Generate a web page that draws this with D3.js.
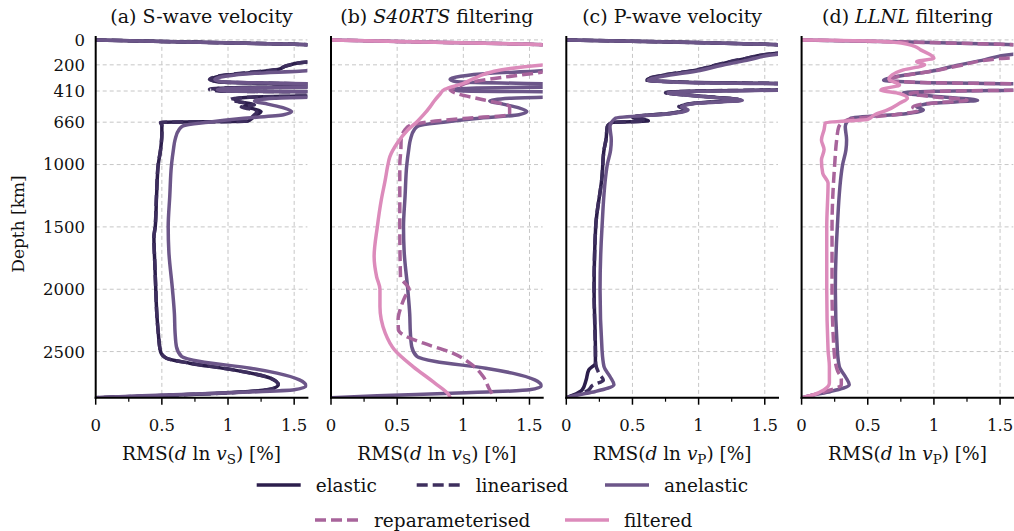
<!DOCTYPE html>
<html><head><meta charset="utf-8">
<script src="https://cdn.jsdelivr.net/npm/d3@7"></script>
<style>
body{margin:0;background:#fff}
svg{display:block}
text{font-family:"DejaVu Serif",serif;fill:#111}
</style>
</head><body>
<svg id="chart" width="1014" height="531"></svg>
<script>
// ---------------- data: [depth km, RMS %] ----------------
const depthTicks = [0, 200, 410, 660, 1000, 1500, 2000, 2500];
const xTicks = [0, 0.5, 1, 1.5];
const xMinorTicks = [0.25, 0.75, 1.25];
const xTickLabels = ["0", "0.5", "1", "1.5"];

const elasticS = [[0,0],[15,0.6],[35,1.5],[55,1.9],[160,1.9],[178,1.6],[205,1.45],[240,1.37],[265,1.15],[290,0.95],[315,0.87],[335,0.92],[348,1.3],[358,1.9],[372,1.9],[382,1.1],[395,0.9],[408,0.95],[418,1.9],[442,1.9],[458,1.2],[475,1.05],[495,1.08],[515,1.18],[535,1.12],[555,1.2],[575,1.25],[600,1.22],[630,1.18],[652,1.15],[662,0.5],[690,0.5],[750,0.5],[883,0.49],[1000,0.473],[1250,0.46],[1500,0.45],[1580,0.44],[1800,0.447],[2000,0.454],[2200,0.462],[2350,0.473],[2500,0.49],[2553,0.535],[2593,0.71],[2647,1.04],[2713,1.32],[2767,1.38],[2800,1.33],[2825,1.1],[2845,0.7],[2860,0.3],[2870,0]];
const linearisedS = [[0,0],[15,0.6],[35,1.5],[55,1.9],[160,1.9],[178,1.6],[205,1.45],[240,1.35],[265,1.12],[290,0.93],[318,0.86],[338,0.95],[350,1.4],[360,1.9],[374,1.9],[384,1.05],[396,0.86],[410,0.93],[420,1.9],[444,1.9],[460,1.15],[478,1.02],[500,1.1],[520,1.2],[538,1.1],[558,1.18],[578,1.22],[600,1.2],[630,1.17],[652,1.14],[662,0.49],[690,0.5],[750,0.5],[883,0.49],[1000,0.472],[1250,0.459],[1500,0.449],[1580,0.44],[1800,0.447],[2000,0.454],[2200,0.462],[2350,0.473],[2500,0.49],[2553,0.535],[2593,0.71],[2647,1.04],[2713,1.32],[2767,1.38],[2800,1.33],[2825,1.1],[2845,0.7],[2860,0.3],[2870,0]];
const anelasticS = [[0,0],[15,0.6],[35,1.5],[55,1.9],[190,1.9],[215,1.65],[245,1.6],[268,1.2],[292,0.98],[315,0.9],[335,0.95],[348,1.4],[358,1.9],[375,1.9],[385,1.1],[398,0.92],[410,1.0],[420,1.9],[450,1.9],[468,1.35],[490,1.2],[515,1.3],[545,1.42],[575,1.48],[600,1.42],[630,1.1],[660,0.85],[690,0.66],[720,0.63],[800,0.6],[883,0.587],[1000,0.573],[1250,0.56],[1500,0.548],[1700,0.553],[2000,0.58],[2200,0.595],[2350,0.6],[2460,0.61],[2540,0.65],[2580,0.79],[2633,1.17],[2673,1.37],[2727,1.54],[2775,1.59],[2807,1.5],[2833,0.96],[2855,0.35],[2870,0]];
const reparamS = [[0,0],[15,0.6],[35,1.5],[55,1.9],[200,1.9],[255,1.62],[300,1.3],[340,1.05],[380,0.95],[400,0.9],[430,0.95],[480,1.15],[535,1.35],[600,1.35],[630,1.0],[660,0.72],[685,0.6],[720,0.56],[802,0.53],[883,0.528],[1000,0.52],[1500,0.52],[1900,0.525],[2000,0.59],[2058,0.56],[2139,0.53],[2245,0.507],[2326,0.51],[2380,0.57],[2433,0.7],[2513,0.92],[2593,1.05],[2700,1.15],[2807,1.2],[2870,1.24]];
const filteredS = [[0,0],[15,0.6],[35,1.5],[55,1.9],[180,1.9],[201,1.6],[255,1.22],[300,1.1],[348,1.0],[396,0.86],[440,0.82],[490,0.78],[535,0.75],[600,0.7],[656,0.65],[722,0.58],[829,0.5],[936,0.445],[1003,0.43],[1123,0.41],[1284,0.38],[1500,0.35],[1738,0.326],[1900,0.345],[2000,0.37],[2139,0.37],[2352,0.41],[2486,0.48],[2620,0.62],[2753,0.785],[2847,0.89],[2870,0.9]];

const elasticP = [[0,0],[15,0.7],[35,1.5],[55,1.9],[95,1.9],[107,1.6],[150,1.35],[201,1.14],[241,0.99],[289,0.71],[321,0.61],[340,0.9],[355,1.9],[395,1.9],[410,1.0],[423,0.76],[450,1.0],[482,1.32],[505,1.0],[535,0.86],[560,0.91],[588,0.8],[620,0.5],[650,0.62],[662,0.35],[696,0.31],[800,0.3],[883,0.285],[1097,0.27],[1500,0.222],[2000,0.21],[2486,0.22],[2593,0.22],[2647,0.17],[2727,0.15],[2807,0.12],[2850,0.05],[2870,0]];
const linearisedP = [[0,0],[15,0.7],[35,1.5],[55,1.9],[95,1.9],[107,1.6],[150,1.35],[201,1.13],[241,0.98],[289,0.7],[321,0.6],[340,0.9],[355,1.9],[395,1.9],[410,1.0],[423,0.75],[450,1.0],[482,1.31],[505,1.0],[535,0.85],[560,0.9],[588,0.79],[620,0.5],[650,0.6],[662,0.35],[696,0.31],[800,0.3],[883,0.285],[1097,0.27],[1500,0.222],[2000,0.21],[2486,0.22],[2593,0.222],[2680,0.25],[2730,0.28],[2770,0.2],[2815,0.16],[2850,0.06],[2870,0]];
const anelasticP = [[0,0],[15,0.7],[35,1.5],[55,1.9],[100,1.9],[115,1.6],[160,1.38],[205,1.17],[245,1.01],[292,0.73],[323,0.62],[342,0.9],[357,1.9],[397,1.9],[412,1.0],[425,0.77],[452,1.0],[484,1.33],[507,1.0],[537,0.87],[562,0.92],[590,0.8],[629,0.37],[696,0.33],[800,0.34],[883,0.335],[1000,0.31],[1500,0.27],[2000,0.255],[2486,0.27],[2620,0.285],[2700,0.33],[2767,0.36],[2820,0.22],[2850,0.08],[2870,0]];
const reparamP = [[0,0],[15,0.7],[35,1.5],[55,1.9],[130,1.9],[150,1.5],[205,1.2],[245,1.02],[292,0.74],[323,0.64],[342,0.9],[357,1.9],[397,1.9],[412,1.05],[430,0.82],[455,0.98],[484,1.25],[510,0.95],[540,0.84],[565,0.88],[595,0.75],[640,0.35],[700,0.28],[802,0.265],[1000,0.25],[1500,0.23],[2000,0.23],[2486,0.245],[2650,0.27],[2720,0.3],[2767,0.3],[2820,0.18],[2870,0]];
const filteredP = [[0,0],[3,0.2],[8,0.5],[20,0.72],[50,0.85],[80,0.9],[147,1.0],[175,0.87],[200,0.93],[241,0.77],[316,0.66],[361,0.74],[401,0.6],[430,0.74],[468,0.8],[508,0.74],[562,0.65],[602,0.55],[637,0.5],[664,0.18],[720,0.17],[802,0.15],[880,0.17],[963,0.15],[1070,0.16],[1150,0.2],[1500,0.19],[2000,0.19],[2486,0.2],[2620,0.21],[2753,0.21],[2807,0.17],[2850,0.08],[2870,0]];

const seriesNames = ["elastic","linearised","anelastic","reparameterised","filtered"];
const seriesColors = {elastic:"#2c1e4c", linearised:"#3e2f5e", anelastic:"#6c5689", reparameterised:"#a8649b", filtered:"#dc8bbb"};
const seriesDash = {elastic:null, linearised:"11,5", anelastic:null, reparameterised:"11,5", filtered:null};

const panelSpecs = [
  {letter:"(a) ", name:"S-wave velocity", italic:false, sub:"S",
   lines:[["elastic",elasticS],["linearised",linearisedS],["anelastic",anelasticS]]},
  {letter:"(b) ", name:"S40RTS", rest:" filtering", italic:true, sub:"S",
   lines:[["anelastic",anelasticS],["reparameterised",reparamS],["filtered",filteredS]]},
  {letter:"(c) ", name:"P-wave velocity", italic:false, sub:"P",
   lines:[["elastic",elasticP],["linearised",linearisedP],["anelastic",anelasticP]]},
  {letter:"(d) ", name:"LLNL", rest:" filtering", italic:true, sub:"P",
   lines:[["anelastic",anelasticP],["reparameterised",reparamP],["filtered",filteredP]]}
];

// ---------------- layout ----------------
const svg = d3.select("#chart");
const left0 = 95.7, step = 235.3, topY = 39.9, W = 211.7, H = 357.8;
const x = d3.scaleLinear().domain([0,1.6]).range([0,W]);
const y = d3.scaleLinear().domain([0,2870]).range([0,H]);
const line = d3.line().x(d=>x(d[1])).y(d=>y(d[0])).curve(d3.curveMonotoneY);

panelSpecs.forEach((p,i)=>{
  const g = svg.append("g").attr("transform",`translate(${left0+i*step},${topY})`);
  g.selectAll(".hg").data(depthTicks).enter().append("line")
    .attr("x1",0).attr("x2",W).attr("y1",d=>y(d)).attr("y2",d=>y(d))
    .attr("stroke","#c6c6c6").attr("stroke-width",1).attr("stroke-dasharray","4,3");
  g.selectAll(".vg").data(xTicks.slice(1)).enter().append("line")
    .attr("y1",0).attr("y2",H).attr("x1",d=>x(d)).attr("x2",d=>x(d))
    .attr("stroke","#c6c6c6").attr("stroke-width",1).attr("stroke-dasharray","4,3");
  const cid = "clip"+i;
  g.append("clipPath").attr("id",cid).append("rect").attr("x",0).attr("y",-6).attr("width",W).attr("height",H+6);
  const lg = g.append("g").attr("clip-path",`url(#${cid})`);
  p.lines.forEach(([name,data])=>{
    lg.append("path").attr("d",line(data)).attr("fill","none")
      .attr("stroke",seriesColors[name]).attr("stroke-width",3.5)
      .attr("stroke-linejoin","round")
      .attr("stroke-dasharray",seriesDash[name]);
  });
  g.append("line").attr("x1",0).attr("x2",0).attr("y1",-4).attr("y2",H+1).attr("stroke","#000").attr("stroke-width",2);
  g.append("line").attr("x1",-1).attr("x2",W+1).attr("y1",H).attr("y2",H).attr("stroke","#000").attr("stroke-width",2);
  g.selectAll(".mt").data(xTicks).enter().append("line")
    .attr("x1",d=>x(d)).attr("x2",d=>x(d)).attr("y1",H).attr("y2",H+7).attr("stroke","#000").attr("stroke-width",1.5);
  g.selectAll(".nt").data(xMinorTicks).enter().append("line")
    .attr("x1",d=>x(d)).attr("x2",d=>x(d)).attr("y1",H).attr("y2",H+4).attr("stroke","#000").attr("stroke-width",1.2);
  g.selectAll(".tl").data(xTicks).enter().append("text")
    .attr("x",d=>x(d)).attr("y",H+33.3).attr("text-anchor","middle").attr("font-size",16.5)
    .text((d,j)=>xTickLabels[j]);
  const xl = g.append("text").attr("x",W/2).attr("y",H+62.3).attr("text-anchor","middle").attr("font-size",18.5);
  xl.append("tspan").text("RMS(");
  xl.append("tspan").attr("font-style","italic").text("d");
  xl.append("tspan").text(" ln ");
  xl.append("tspan").attr("font-style","italic").text("v");
  xl.append("tspan").attr("font-size",13.5).attr("dy",4).text(p.sub);
  xl.append("tspan").attr("dy",-4).text(")  [%]");
  const t = g.append("text").attr("x",W/2).attr("y",-16.6).attr("text-anchor","middle").attr("font-size",19);
  t.append("tspan").text(p.letter);
  t.append("tspan").attr("font-style",p.italic?"italic":"normal").text(p.name);
  if(p.rest) t.append("tspan").text(p.rest);
  if(i===0){
    g.selectAll(".yl").data(depthTicks).enter().append("text")
      .attr("x",-10.7).attr("y",d=>y(d)).attr("dy","0.36em").attr("text-anchor","end").attr("font-size",16.5)
      .text(d=>d);
  }
});

svg.append("text").attr("transform","translate(24,224) rotate(-90)").attr("text-anchor","middle")
  .attr("font-size",17).text("Depth [km]");

const legendRows = [
  [{n:"elastic",x:256.7},{n:"linearised",x:416.7},{n:"anelastic",x:605}],
  [{n:"reparameterised",x:315},{n:"filtered",x:565}]
];
const legendY = [485, 520];
legendRows.forEach((row,r)=>{
  row.forEach(it=>{
    svg.append("line").attr("x1",it.x).attr("x2",it.x+44).attr("y1",legendY[r]).attr("y2",legendY[r])
      .attr("stroke",seriesColors[it.n]).attr("stroke-width",3.5).attr("stroke-dasharray",seriesDash[it.n]);
    svg.append("text").attr("x",it.x+59).attr("y",legendY[r]+6.5).attr("font-size",18.5).text(it.n);
  });
});
</script>
</body></html>
